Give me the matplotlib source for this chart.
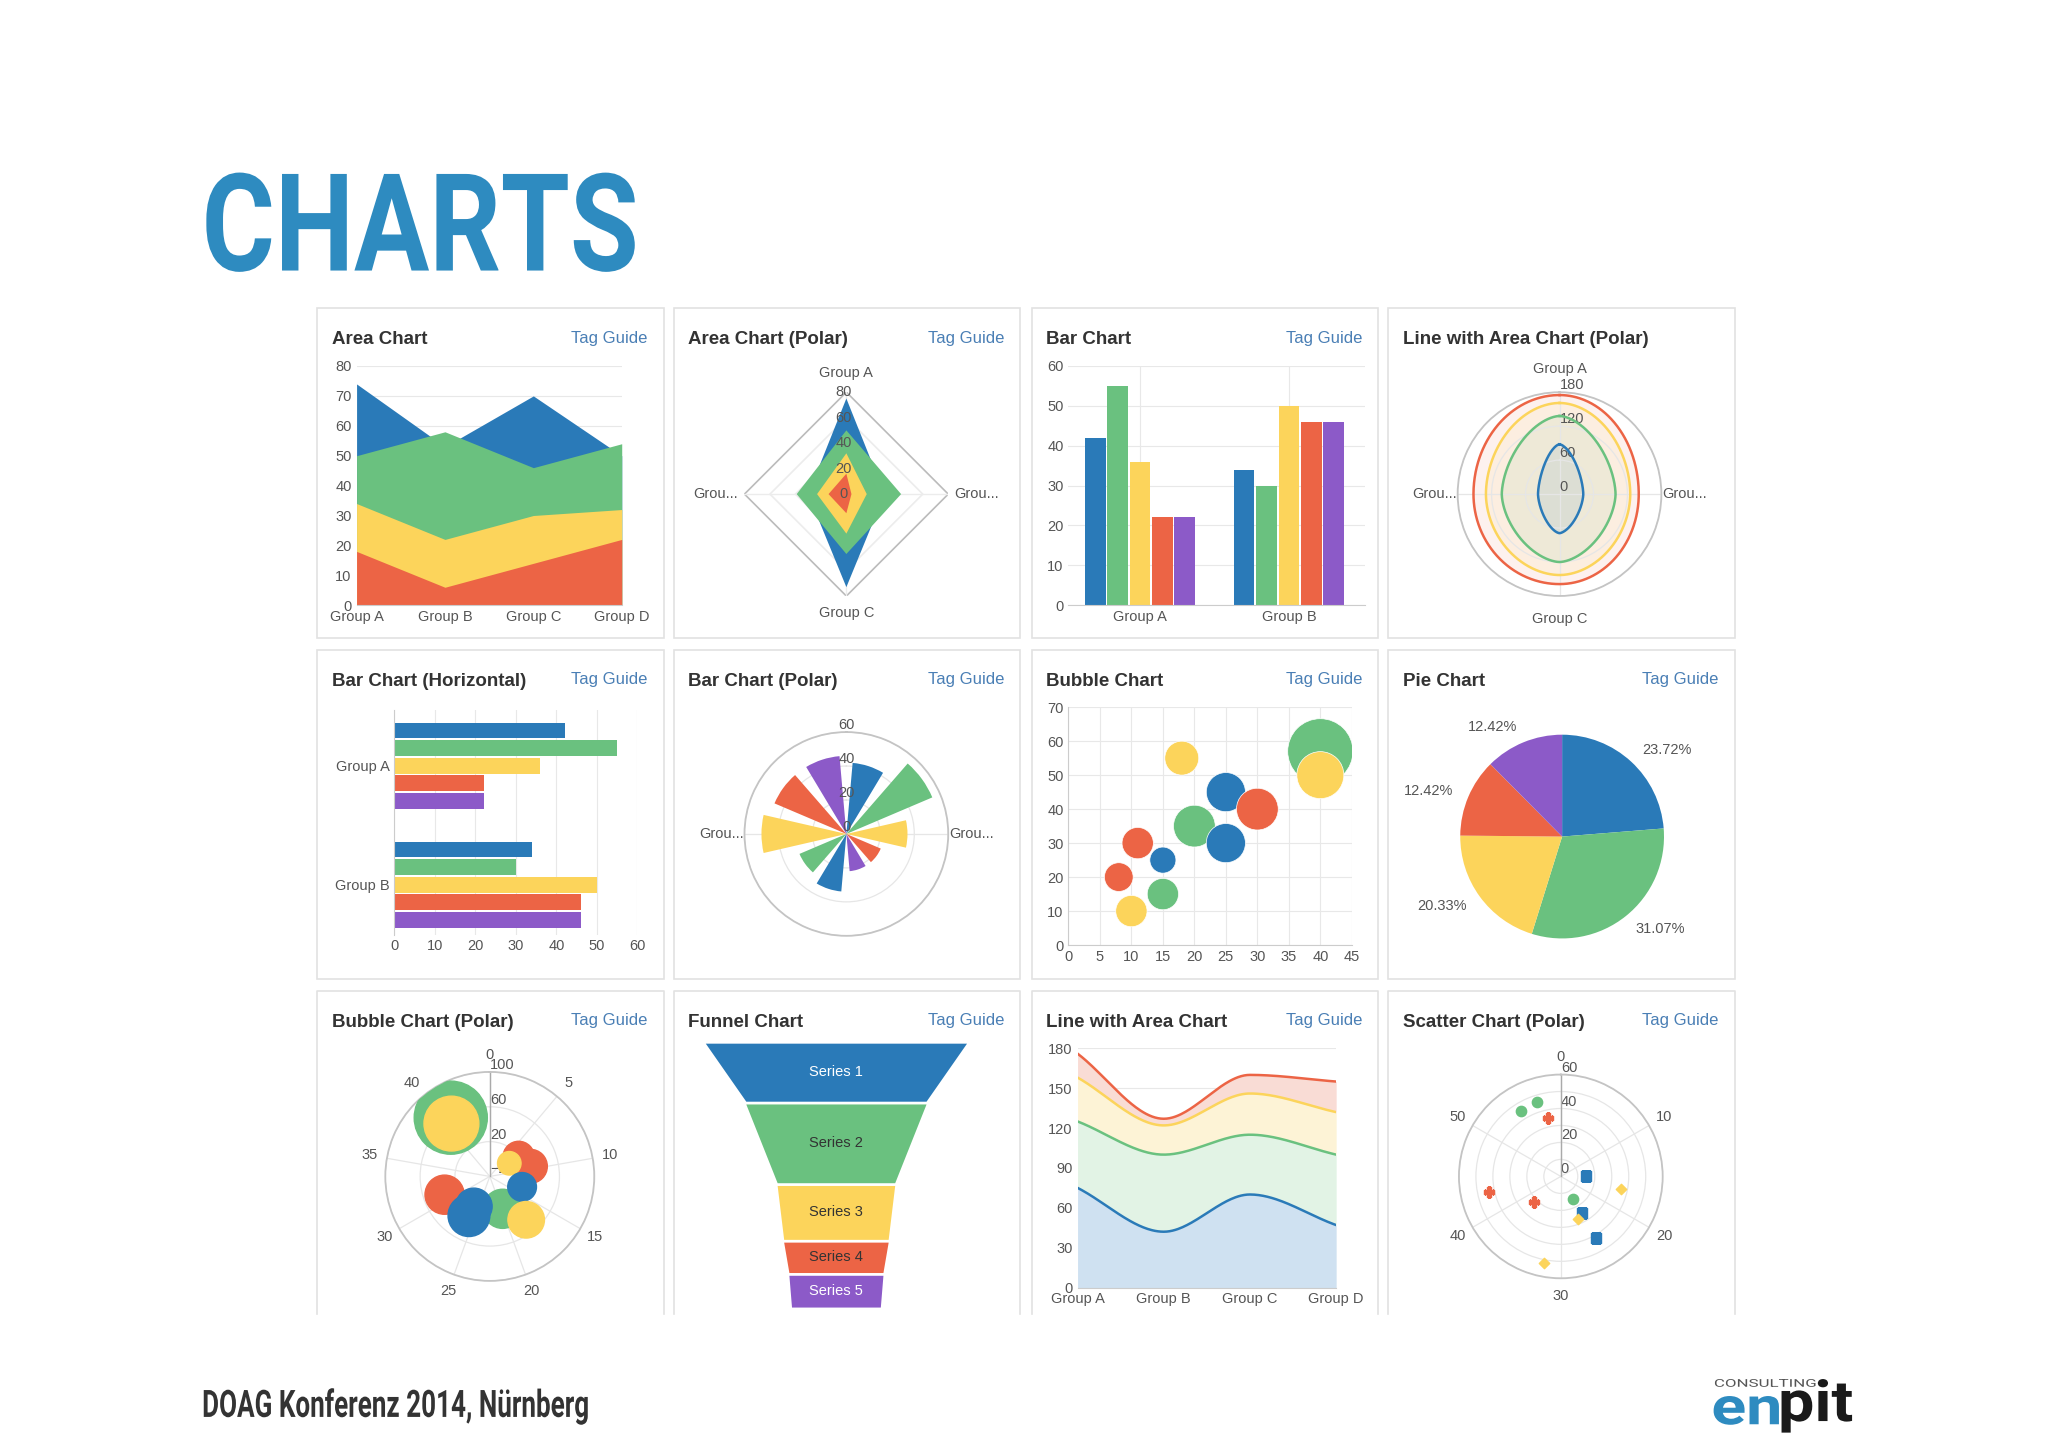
import numpy as np
import matplotlib
matplotlib.use("Agg")
import matplotlib.pyplot as plt
from matplotlib.textpath import TextPath
from matplotlib.font_manager import FontProperties
from matplotlib.patches import PathPatch, Rectangle
from matplotlib.transforms import Affine2D

plt.rcParams['font.family'] = ['Liberation Sans', 'DejaVu Sans']

# colours of the series
BLUE, GREEN, YELLOW, RED, PURPLE = '#2a7ab8', '#6ac17f', '#fcd45b', '#ec6445', '#8c5ac8'
SERIES_COLORS = [BLUE, GREEN, YELLOW, RED, PURPLE]

# ---------------- data ----------------
groups4 = ['Group A', 'Group B', 'Group C', 'Group D']
area_blue = [74, 53, 70, 50]
area_green = [50, 58, 46, 54]
area_yellow = [34, 22, 30, 32]
area_red = [18, 6, 14, 22]

radar_blue = [75, 30, 73, 30]
radar_green = [50, 43, 47, 39]
radar_yellow = [32, 16, 31, 23]
radar_red = [16, 4, 15, 14]

bar_groups = ['Group A', 'Group B']
bar_a = [42, 55, 36, 22, 22]
bar_b = [34, 30, 50, 46, 46]

# top, right, bottom, left
lpolar_blue = [88, 42, 69, 38]
lpolar_green = [138, 99, 120, 102]
lpolar_yellow = [161, 125, 143, 130]
lpolar_red = [175, 140, 159, 152]

bub_x = [18, 40, 40, 25, 30, 20, 25, 11, 15, 8, 15, 10]
bub_y = [55, 57, 50, 45, 40, 35, 30, 30, 25, 20, 15, 10]
bub_r = [13, 25, 18, 15, 16, 16, 15, 12, 10, 11, 12, 12]
bub_c = [YELLOW, GREEN, YELLOW, BLUE, RED, GREEN, BLUE, RED, BLUE, RED, GREEN, YELLOW]

pie_vals = [23.72, 31.07, 20.33, 12.42, 12.42]

pbub_t = [40.8, 40.5, 19.8, 7, 9.5, 7, 13.5, 17.5, 31, 26, 26]
pbub_r = [61, 55, 20, 20, 28, 7, 19, 45, 36, 31, 19]
pbub_s = [28, 21, 15, 12, 13, 9, 11, 14, 15, 16, 14]
pbub_c = [GREEN, YELLOW, GREEN, RED, RED, YELLOW, BLUE, YELLOW, RED, BLUE, BLUE]

funnel_labels = ['Series 1', 'Series 2', 'Series 3', 'Series 4', 'Series 5']
funnel_heights = [44, 59, 41, 24, 25]
funnel_widths = [200, 138, 90, 80, 72, 68]

lac_blue = [75, 42, 70, 47]
lac_green = [125, 100, 115, 100]
lac_yellow = [158, 122, 146, 132]
lac_red = [176, 127, 160, 155]

sc_green_t = [54.8, 57, 25.3]
sc_green_r = [45, 46, 15]
sc_red_t = [58, 43, 37.7]
sc_red_r = [35, 43, 22]
sc_blue_t = [15, 25, 25]
sc_blue_r = [15, 25, 42]
sc_yellow_t = [17, 26.3, 31.8]
sc_yellow_r = [36, 27, 52]

# ---------------- layout helpers (coords in a 1568x1107 frame) ----------------
W, H = 1568.0, 1107.0
fig = plt.figure(figsize=(20.48, 14.47), dpi=100)
ov = fig.add_axes([0, 0, 1, 1])
ov.set_xlim(0, W)
ov.set_ylim(H, 0)
ov.axis('off')

TICK = dict(fontsize=10.5, color='#555555')


def ax_at(x0, y0, x1, y1, **kw):
    return fig.add_axes([x0 / W, 1 - y1 / H, (x1 - x0) / W, (y1 - y0) / H], **kw)


def polar_at(cx, cy, r):
    ax = ax_at(cx - r, cy - r, cx + r, cy + r, projection='polar')
    ax.set_theta_zero_location('N')
    ax.set_theta_direction(-1)
    ax.grid(color='#e6e6e6', lw=0.9)
    ax.spines['polar'].set_color('#c4c4c4')
    ax.spines['polar'].set_linewidth(1.3)
    ax.tick_params(labelsize=10.5, labelcolor='#555555', pad=2)
    return ax


def fit_text(s, x0, x1, y0, y1, color, family='Roboto', weight='bold'):
    tp = TextPath((0, 0), s, size=100, prop=FontProperties(family=family, weight=weight))
    bb = tp.get_extents()
    tr = Affine2D().translate(-bb.x0, -bb.y1).scale((x1 - x0) / bb.width, -(y1 - y0) / bb.height).translate(x0, y0)
    ov.add_patch(PathPatch(tr.transform_path(tp), fc=color, lw=0))


def panel(x, y, title, tag=True, h=252, open_bottom=False):
    if open_bottom:
        ov.plot([x, x, x + 265, x + 265], [y + h, y, y, y + h], color='#e2e2e2', lw=1.2)
    else:
        ov.add_patch(Rectangle((x, y), 265, h, fill=False, ec='#e2e2e2', lw=1.2))
    ov.text(x + 11, y + 24, title, fontsize=13.5, fontweight='bold', color='#333333', va='center')
    if tag:
        ov.text(x + 253, y + 23, 'Tag Guide', fontsize=12, color='#4a7fb5', va='center', ha='right')


def cart_style(ax):
    for s in ['top', 'right', 'left']:
        ax.spines[s].set_visible(False)
    ax.spines['bottom'].set_color('#cccccc')
    ax.tick_params(length=0, **{'labelsize': 10.5, 'labelcolor': '#555555'})
    ax.set_axisbelow(True)


def smooth(x, y, n=60):
    x = np.asarray(x, float)
    y = np.asarray(y, float)
    d = np.diff(y) / np.diff(x)
    m = np.zeros_like(y)
    m[0], m[-1] = d[0], d[-1]
    for i in range(1, len(y) - 1):
        m[i] = 0 if d[i - 1] * d[i] <= 0 else (d[i - 1] + d[i]) / 2
    xs, ys = [], []
    for i in range(len(x) - 1):
        t = np.linspace(0, 1, n)
        h = x[i + 1] - x[i]
        h00 = 2 * t**3 - 3 * t**2 + 1
        h10 = t**3 - 2 * t**2 + t
        h01 = -2 * t**3 + 3 * t**2
        h11 = t**3 - t**2
        xs.append(x[i] + t * h)
        ys.append(h00 * y[i] + h10 * h * m[i] + h01 * y[i + 1] + h11 * h * m[i + 1])
    return np.concatenate(xs), np.concatenate(ys)


def rounded_diamond(vals, p):
    # closed curve through the four axis values (top, right, bottom, left)
    top, right, bottom, left = vals
    th = np.linspace(0, 2 * np.pi, 721)
    s, c = np.sin(th), np.cos(th)
    a = np.where(s >= 0, right, left)
    b = np.where(c >= 0, top, bottom)
    r = 1.0 / (np.abs(s / a)**p + np.abs(c / b)**p)**(1.0 / p)
    return th, r


# ---------------- header / footer ----------------
fit_text('CHARTS', 158, 486, 132, 208, '#2e8bc0')
fit_text('DOAG Konferenz 2014, Nürnberg', 156, 450, 1062, 1090, '#333333')
fit_text('CONSULTING', 1313, 1390, 1055, 1061, '#555555', weight='normal')
fit_text('en', 1312, 1362, 1068, 1090, '#2e8bc0')
fit_text('pit', 1364, 1418, 1055, 1096, '#1a1a1a')

cols = [243, 516, 790, 1063]
rows = [236, 497, 758]

# ---------------- 1 Area chart ----------------
panel(cols[0], rows[0], 'Area Chart')
ax = ax_at(273, 280, 476, 463)
xi = np.arange(4)
for vals, c in [(area_blue, BLUE), (area_green, GREEN), (area_yellow, YELLOW), (area_red, RED)]:
    ax.fill_between(xi, 0, vals, color=c, lw=0)
ax.set_xlim(0, 3)
ax.set_ylim(0, 80)
ax.set_yticks(range(0, 81, 10))
ax.set_xticks(xi, groups4)
ax.grid(axis='y', color='#e8e8e8')
cart_style(ax)

# ---------------- 2 Area chart (polar / radar) ----------------
panel(cols[1], rows[0], 'Area Chart (Polar)')
ax = ax_at(570, 300, 726, 456)
ang = np.deg2rad([0, 90, 180, 270, 0])
for rr in [20, 40, 60, 80]:
    ax.plot(rr * np.sin(ang), rr * np.cos(ang), color='#bbbbbb' if rr == 80 else '#ececec', lw=1.2, zorder=1)
ax.plot([0, 0], [-80, 80], color='#ececec', lw=1, zorder=1)
ax.plot([-80, 80], [0, 0], color='#ececec', lw=1, zorder=1)
for vals, c in [(radar_blue, BLUE), (radar_green, GREEN), (radar_yellow, YELLOW), (radar_red, RED)]:
    v = np.array(vals + vals[:1], float)
    ax.fill(v * np.sin(ang), v * np.cos(ang), color=c, lw=0, zorder=2)
for rr in [0, 20, 40, 60, 80]:
    ax.text(-2, rr, str(rr), ha='center', va='center', zorder=3, **TICK)
ax.text(0, 95, 'Group A', ha='center', va='center', **TICK)
ax.text(0, -93, 'Group C', ha='center', va='center', **TICK)
ax.text(-85, 0, 'Grou...', ha='right', va='center', **TICK)
ax.text(85, 0, 'Grou...', ha='left', va='center', **TICK)
ax.set_xlim(-80, 80)
ax.set_ylim(-80, 80)
ax.axis('off')

# ---------------- 3 Bar chart ----------------
panel(cols[2], rows[0], 'Bar Chart')
ax = ax_at(818, 280, 1045, 463)
bw = 0.15
for i in range(5):
    ax.bar(np.arange(2) + (i - 2) * bw, [bar_a[i], bar_b[i]], width=bw * 0.92, color=SERIES_COLORS[i])
ax.set_xlim(-0.48, 1.51)
ax.set_ylim(0, 60)
ax.set_xticks(range(2), bar_groups)
ax.grid(color='#e8e8e8')
cart_style(ax)

# ---------------- 4 Line with Area Chart (Polar) ----------------
panel(cols[3], rows[0], 'Line with Area Chart (Polar)', tag=False)
ax = polar_at(1194, 378, 78)
for vals, c, p in [(lpolar_red, RED, 2.0), (lpolar_yellow, YELLOW, 1.9),
                   (lpolar_green, GREEN, 1.7), (lpolar_blue, BLUE, 1.6)]:
    th, r = rounded_diamond(vals, p)
    ax.fill(th, r, color=c, alpha=0.09, lw=0)
    ax.plot(th, r, color=c, lw=1.8)
ax.set_ylim(0, 180)
ax.set_yticks([0, 60, 120, 180])
ax.set_rlabel_position(0)
ax.set_thetagrids([0, 90, 180, 270], ['Group A', 'Grou...', 'Group C', 'Grou...'])
ax.tick_params(axis='x', pad=6)

# ---------------- 5 Bar chart (horizontal) ----------------
panel(cols[0], rows[1], 'Bar Chart (Horizontal)')
ax = ax_at(302, 543, 488, 715)
bh = 0.148
for i in range(5):
    ax.barh(np.arange(2) + (i - 2) * bh, [bar_a[i], bar_b[i]], height=bh * 0.9, color=SERIES_COLORS[i])
ax.set_ylim(1.42, -0.47)
ax.set_xlim(0, 60)
ax.set_yticks(range(2), bar_groups)
ax.set_xticks(range(0, 61, 10))
ax.grid(axis='x', color='#e8e8e8')
cart_style(ax)
ax.spines['bottom'].set_visible(False)
ax.spines['left'].set_visible(True)
ax.spines['left'].set_color('#cccccc')

# ---------------- 6 Bar chart (polar) ----------------
panel(cols[1], rows[1], 'Bar Chart (Polar)')
ax = polar_at(648, 638, 78)
step = np.pi / 5
for i in range(5):
    ax.bar([(i + 0.5) * step, np.pi + (i + 0.5) * step], [bar_a[i], bar_b[i]], width=step * 0.72,
           color=SERIES_COLORS[i], zorder=3)
ax.set_ylim(0, 60)
ax.set_yticks([0, 20, 40, 60], [])
for rr in [0, 20, 40, 60]:
    ax.text(0, rr, str(rr), ha='center', va='bottom', zorder=5, **TICK)
ax.set_thetagrids([90, 270], ['Grou...', 'Grou...'])
ax.tick_params(axis='x', pad=6)

# ---------------- 7 Bubble chart ----------------
panel(cols[2], rows[1], 'Bubble Chart')
ax = ax_at(818, 541, 1035, 723)
ax.scatter(bub_x, bub_y, s=(1.88 * np.array(bub_r))**2, c=bub_c, zorder=3, lw=0.5, edgecolors='white')
ax.set_xlim(0, 45)
ax.set_ylim(0, 70)
ax.set_xticks(range(0, 46, 5))
ax.set_yticks(range(0, 71, 10))
ax.grid(color='#e8e8e8')
cart_style(ax)
ax.spines['left'].set_visible(True)
ax.spines['left'].set_color('#cccccc')

# ---------------- 8 Pie chart ----------------
panel(cols[3], rows[1], 'Pie Chart')
ax = ax_at(1096, 540, 1296, 740)
ax.pie(pie_vals, colors=SERIES_COLORS, startangle=90, counterclock=False, radius=0.78,
       labels=['%.2f%%' % v for v in pie_vals], labeldistance=1.16,
       textprops=dict(fontsize=10.5, color='#555555'), wedgeprops=dict(lw=0))
ax.set_xlim(-1, 1)
ax.set_ylim(-1, 1)

# ---------------- 9 Bubble chart (polar) ----------------
panel(cols[0], rows[2], 'Bubble Chart (Polar)', h=247, open_bottom=True)
ax = polar_at(375, 900, 80)
ax.scatter(np.array(pbub_t) / 45 * 2 * np.pi, pbub_r, s=(1.88 * np.array(pbub_s))**2, c=pbub_c, zorder=3)
ax.set_ylim(-20, 100)
ax.set_yticks([-20, 20, 60, 100])
ax.set_rlabel_position(0)
ax.set_thetagrids(np.arange(0, 360, 40), [str(v) for v in range(0, 45, 5)])
ax.plot([0, 0], [-20, 100], color='#aaaaaa', lw=1, zorder=2)

# ---------------- 10 Funnel chart ----------------
panel(cols[1], rows[2], 'Funnel Chart', h=247, open_bottom=True)
ax = ax_at(530, 797, 750, 1001)
tops = np.concatenate([[0], np.cumsum(funnel_heights)])
for i in range(5):
    y0, y1 = tops[i] + 1, tops[i + 1] - 1
    w0, w1 = funnel_widths[i], funnel_widths[i + 1]
    ax.fill_betweenx([y0, y1], [-w0 / 2, -w1 / 2], [w0 / 2, w1 / 2], color=SERIES_COLORS[i], lw=0)
    ax.text(0, (y0 + y1) / 2, funnel_labels[i], ha='center', va='center', fontsize=10.5,
            color='white' if i in (0, 4) else '#333333')
ax.set_ylim(tops[-1], 0)
ax.set_xlim(-110, 110)
ax.axis('off')

# ---------------- 11 Line with Area chart ----------------
panel(cols[2], rows[2], 'Line with Area Chart', h=247, open_bottom=True)
ax = ax_at(825, 802, 1023, 985)
xb, yb = smooth(xi, lac_blue)
_, yg = smooth(xi, lac_green)
_, yy = smooth(xi, lac_yellow)
_, yr = smooth(xi, lac_red)
ax.fill_between(xb, 0, yb, color='#cfe1f1', lw=0)
ax.fill_between(xb, yb, yg, color='#e2f3e5', lw=0)
ax.fill_between(xb, yg, yy, color='#fdf3d6', lw=0)
ax.fill_between(xb, yy, yr, color='#f9dcd5', lw=0)
for yv, c in [(yb, BLUE), (yg, GREEN), (yy, YELLOW), (yr, RED)]:
    ax.plot(xb, yv, color=c, lw=1.8)
ax.set_xlim(0, 3)
ax.set_ylim(0, 180)
ax.set_yticks(range(0, 181, 30))
ax.set_xticks(xi, groups4)
ax.grid(axis='y', color='#e8e8e8')
cart_style(ax)

# ---------------- 12 Scatter chart (polar) ----------------
panel(cols[3], rows[2], 'Scatter Chart (Polar)', h=247, open_bottom=True)
ax = polar_at(1195, 900, 78)
k = 2 * np.pi / 60
ax.scatter(np.array(sc_green_t) * k, sc_green_r, marker='o', s=55, color=GREEN, zorder=3)
ax.scatter(np.array(sc_red_t) * k, sc_red_r, marker='P', s=55, color=RED, zorder=3)
ax.scatter(np.array(sc_blue_t) * k, sc_blue_r, marker='s', s=50, color=BLUE, zorder=3)
ax.scatter(np.array(sc_yellow_t) * k, sc_yellow_r, marker='D', s=28, color=YELLOW, zorder=3)
ax.set_ylim(0, 60)
ax.set_yticks([0, 10, 20, 30, 40, 50, 60], ['0', '', '20', '', '40', '', '60'])
ax.set_rlabel_position(0)
ax.set_thetagrids(np.arange(0, 360, 60), [str(v) for v in range(0, 60, 10)])
ax.plot([0, 0], [0, 60], color='#aaaaaa', lw=1, zorder=2)

fig.savefig('out.png', dpi=100, facecolor='white')
